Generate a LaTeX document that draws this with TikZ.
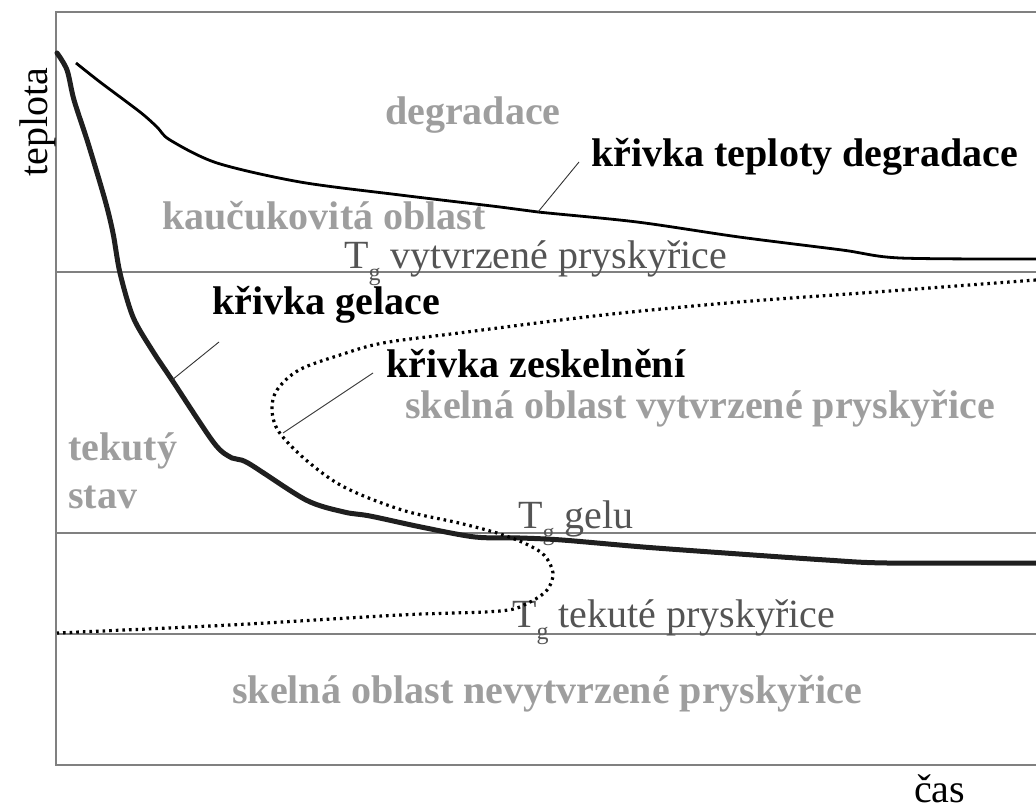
\documentclass[tikz,border=0pt]{standalone}
\usepackage{fontspec}
\setmainfont{Liberation Serif}
\usetikzlibrary{positioning}
\definecolor{regiongray}{gray}{0.62}
\definecolor{tggray}{gray}{0.33}
\definecolor{framegray}{gray}{0.5}
\newcommand{\Tgsub}{T\raisebox{-0.3em}{\fontsize{24}{24}\selectfont g}}

\begin{document}
\begin{tikzpicture}[x=1pt,y=-1pt,
    every node/.style={inner sep=0pt, anchor=base west},
    region/.style={font=\fontsize{40}{48}\selectfont\bfseries, text=regiongray, align=left},
    curvename/.style={font=\fontsize{40}{48}\selectfont\bfseries},
    tglabel/.style={font=\fontsize{40}{48}\selectfont, text=tggray},
    axislabel/.style={font=\fontsize{40}{48}\selectfont},
    frameline/.style={draw=framegray, line width=2pt},
    levelline/.style={draw=framegray, line width=1.6pt},
    leader/.style={draw=black!80, line width=0.9pt}]
%	\draw [help lines, step=100] (0,0) grid (1036,810);
	\useasboundingbox (0,0) rectangle (1036,810);
	% frame and temperature levels
	\draw [frameline] (1036,12) -- (56,12) -- (56,765) -- (1036,765);
	\draw [levelline] (56,272) -- (1036,272);
	\draw [levelline] (56,533) -- (1036,533);
	\draw [levelline] (56,634) -- (1036,634);
	% axis labels
	\node [axislabel, rotate=90, anchor=base] (teplota) at (47,122) {teplota};
	\node [axislabel] (cas) at (914,802) {čas};
	% regions
	\node [region] (degradace) at (385,125) {degradace};
	\node [region] (kaucuk) at (162,230) {kaučukovitá oblast};
	\node [region] (tekuty) at (68,508) {tekutý\\stav};
	\node [region] (skelvyt) at (405,418) {skelná oblast vytvrzené pryskyřice};
	\node [region] (skelnevyt) at (232,703) {skelná oblast nevytvrzené pryskyřice};
	% glass transition temperatures
	\node [tglabel] (tgvyt) at (344,269) {\Tgsub\ vytvrzené pryskyřice};
	\node [tglabel] (tggel) at (518,528) {\Tgsub\ gelu};
	\node [tglabel] (tgtek) at (512,627) {\Tgsub\ tekuté pryskyřice};
	% curve names
	\node [curvename] (degl) at (591,167) {křivka teploty degradace};
	\node [curvename] (gell) at (212,315) {křivka gelace};
	\node [curvename] (zeskl) at (386,377) {křivka zeskelnění};
	% degradation curve
	\draw [line width=2.8pt, line join=round] plot [smooth, tension=0.5] coordinates {
		(76,63) (100,82) (140,112) (157,127) (170,140) (217,163) (300,182)
		(400,195) (500,207) (538,212) (637,222) (739,237) (842,250) (900,258) (1036,259)};
	% gelation curve
	\draw [line width=5pt, draw=black!88, line cap=round] plot [smooth, tension=0.5] coordinates {
		(57,53) (67,70) (74,100) (88,143) (105,200) (113,233) (120,273) (133,317)
		(152,350) (172,380) (214,443) (232,458) (248,463) (306,500) (344,512)
		(370,516) (421,527) (475,537) (520,538) (562,540) (643,547) (725,553)
		(826,560) (887,563) (1036,563)};
	% vitrification curve
	\draw [line width=3.2pt, dash pattern=on 2.6pt off 4pt] plot [smooth, tension=0.55] coordinates {
		(1036,280) (876,292) (739,302) (603,315) (459,333) (383,343) (340,355)
		(299,370) (277,390) (272,410) (279,432) (306,460) (344,487) (402,510)
		(459,523) (497,533) (524,543) (544,555) (553,573) (547,590) (528,603)
		(500,611) (400,615) (230,625) (57,633)};
	% leaders from curves to their names
	\coordinate (degtip) at (538,212);
	\coordinate (geltip) at (172,380);
	\coordinate (zestip) at (283,433);
	\draw [leader] (degtip) -- ([shift={(-12,-5)}]degl.base west);
	\draw [leader] (geltip) -- ([shift={(7,27)}]gell.base west);
	\draw [leader] (zestip) -- ([shift={(-13,-4)}]zeskl.base west);
\end{tikzpicture}
\end{document}
